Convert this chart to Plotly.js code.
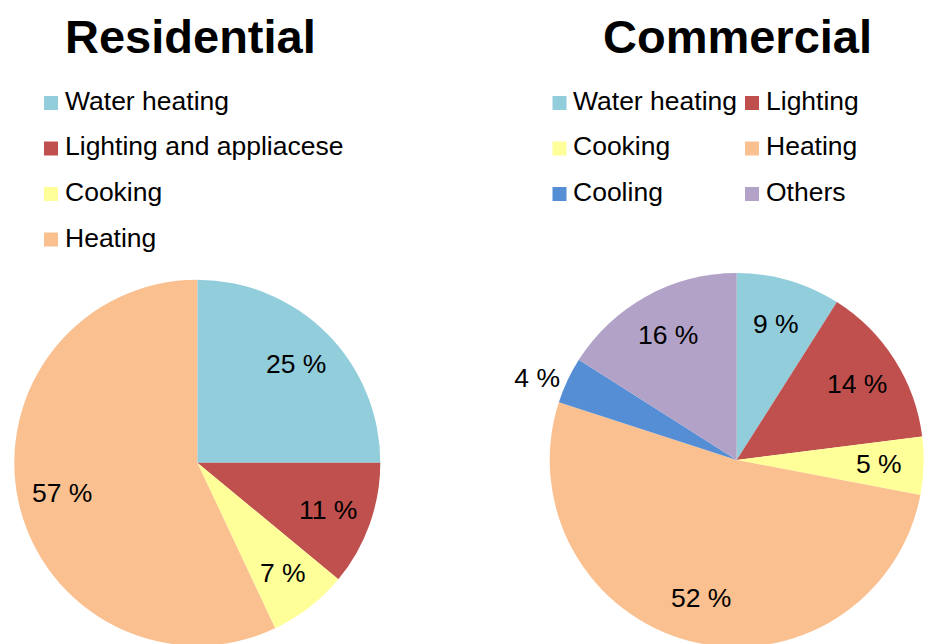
<!DOCTYPE html>
<html>
<head>
<meta charset="utf-8">
<script src="https://cdn.plot.ly/plotly-3.0.1.min.js"></script>
<style>
html, body { margin: 0; padding: 0; overflow: hidden; background: #ffffff; }
#chart { width: 925px; height: 660px; }
</style>
</head>
<body>
<div id="chart"></div>
<script>
// ---- data ----
const resTitle = "Residential";
const resLabels = ["Water heating", "Lighting and appliacese", "Cooking", "Heating"];
const resValues = [25, 11, 7, 57];
const resColors = ["#92CDDC", "#C0504D", "#FFFF99", "#FAC090"];
const resTextPos = ["none", "none", "none", "none"];

const comTitle = "Commercial";
const comLabels = ["Water heating", "Lighting", "Cooking", "Heating", "Cooling", "Others"];
const comValues = [9, 14, 5, 52, 4, 16];
const comColors = ["#92CDDC", "#C0504D", "#FFFF99", "#FAC090", "#558ED5", "#B3A2C7"];
const comTextPos = ["none", "none", "none", "none", "outside", "none"];

// ---- layout helpers (pixel -> paper) ----
const W = 925, H = 660;
const px = v => v / W;
const py = v => (H - v) / H;
const FONT = "Liberation Sans, Arial, sans-serif";
const LABEL_SIZE = 26.5;

// pie geometry (pixels): centre and radius
const resPie = { cx: 197.3, cy: 462.7, r: 183 };
const comPie = { cx: 736.7, cy: 460, r: 187 };
const domainOf = p => ({ x: [px(p.cx - p.r), px(p.cx + p.r)], y: [py(p.cy + p.r), py(p.cy - p.r)] });

const pieCommon = {
  type: "pie",
  sort: false,
  direction: "clockwise",
  rotation: 0,
  texttemplate: "%{value} %",
  textfont: { family: FONT, size: LABEL_SIZE, color: "#000000" },
  hoverinfo: "none",
  showlegend: false,
};

const traces = [
  Object.assign({}, pieCommon, {
    labels: resLabels, values: resValues,
    marker: { colors: resColors, line: { width: 0 } },
    textposition: resTextPos,
    domain: domainOf(resPie),
  }),
  Object.assign({}, pieCommon, {
    labels: comLabels, values: comValues,
    marker: { colors: comColors, line: { width: 0 } },
    textposition: comTextPos,
    domain: domainOf(comPie),
  }),
];

const annotations = [];
const shapes = [];

// inside percentage labels, placed along each slice's mid-angle
function sliceLabels(values, textPos, pie) {
  const total = values.reduce((a, b) => a + b, 0);
  let cum = 0;
  values.forEach((v, i) => {
    const a = 2 * Math.PI * (cum + v / 2) / total;
    cum += v;
    if (textPos[i] !== "none") return;
    const k = 0.76 * pie.r;
    annotations.push({
      text: v + " %", xref: "paper", yref: "paper",
      x: px(pie.cx + k * Math.sin(a)), y: py(pie.cy - k * Math.cos(a)),
      xanchor: "center", yanchor: "middle", showarrow: false,
      font: { family: FONT, size: LABEL_SIZE, color: "#000000" },
    });
  });
}
sliceLabels(resValues, resTextPos, resPie);
sliceLabels(comValues, comTextPos, comPie);

function title(text, cx) {
  annotations.push({
    text: "<b>" + text + "</b>", x: px(cx), y: py(36), xref: "paper", yref: "paper",
    xanchor: "center", yanchor: "middle", showarrow: false,
    font: { family: FONT, size: 47, color: "#000000" },
  });
}
title(resTitle, 190);
title(comTitle, 737.5);

function legendItem(label, color, sqX, txtX, baseline) {
  const c = baseline - 7;
  shapes.push({
    type: "rect", xref: "paper", yref: "paper",
    x0: px(sqX), x1: px(sqX + 14), y0: py(c + 7), y1: py(c - 7),
    fillcolor: color, line: { width: 0 },
  });
  annotations.push({
    text: label, x: px(txtX - 2), y: py(baseline - 9), xref: "paper", yref: "paper",
    xanchor: "left", yanchor: "middle", showarrow: false,
    font: { family: FONT, size: LABEL_SIZE, color: "#000000" },
  });
}
const rowBase = [110, 155.5, 201, 246.5];
resLabels.forEach((l, i) => legendItem(l, resColors[i], 44, 65, rowBase[i]));
comLabels.forEach((l, i) => {
  const col = i % 2, row = Math.floor(i / 2);
  const sqX = col === 0 ? 552.5 : 745;
  const txX = col === 0 ? 573 : 766;
  legendItem(l, comColors[i], sqX, txX, rowBase[row]);
});

const layout = {
  width: W, height: H,
  margin: { l: 0, r: 0, t: 0, b: 0 },
  paper_bgcolor: "#ffffff",
  showlegend: false,
  annotations: annotations,
  shapes: shapes,
};

Plotly.newPlot("chart", traces, layout, { displayModeBar: false, staticPlot: true });
</script>
</body>
</html>
